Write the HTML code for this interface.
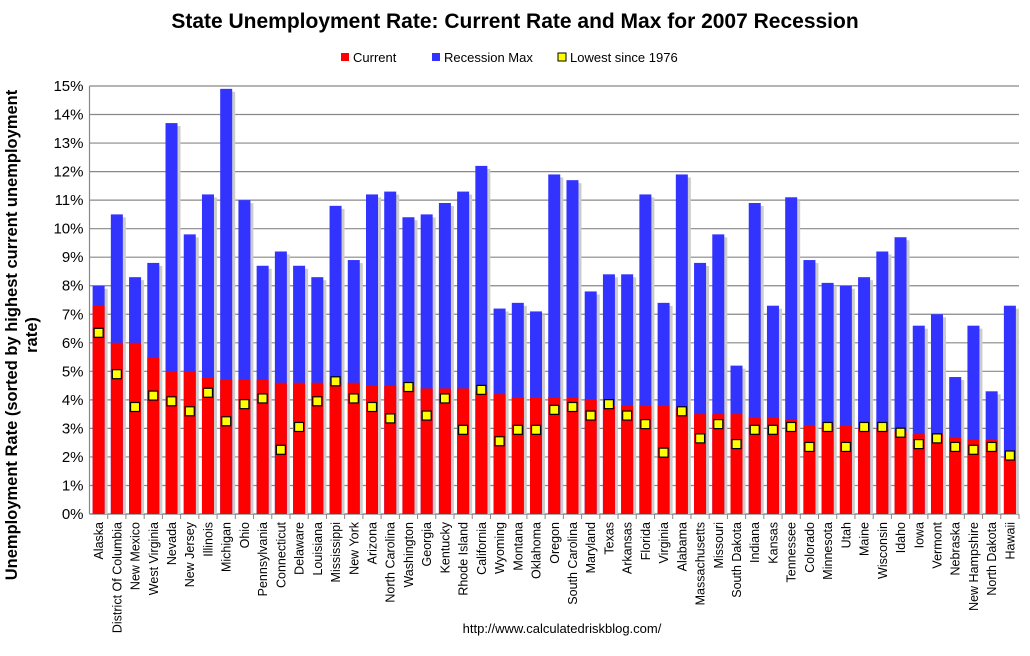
<!DOCTYPE html>
<html><head><meta charset="utf-8"><style>
body{margin:0;background:#fff;font-family:"Liberation Sans",Arial,sans-serif}
</style></head><body>
<svg id="chart" width="1030" height="651" xmlns="http://www.w3.org/2000/svg" font-family="Liberation Sans, Arial, sans-serif">
<rect width="1030" height="651" fill="#fff"/>
<text x="515" y="28" text-anchor="middle" font-size="21" font-weight="bold">State Unemployment Rate: Current Rate and Max for 2007 Recession</text>
<g font-size="13">
<g><rect x="341" y="53" width="8" height="8" fill="#f00"/><text x="353" y="62">Current</text></g>
<g><rect x="432" y="53" width="8" height="8" fill="#3333ff"/><text x="444" y="62">Recession Max</text></g>
<g><rect x="558" y="53" width="8" height="8" fill="#ff0" stroke="#000" stroke-width="1"/><text x="570" y="62">Lowest since 1976</text></g>
</g>
<text transform="translate(17,335) rotate(-90)" text-anchor="middle" font-size="16.5" font-weight="bold">Unemployment Rate (sorted by highest current unemployment</text>
<text transform="translate(37,335) rotate(-90)" text-anchor="middle" font-size="16.5" font-weight="bold">rate)</text>
<text x="562" y="633" text-anchor="middle" font-size="13">http://www.calculatedriskblog.com/</text>
<g id="grid"></g><g id="bars"></g><g id="labels"></g>
</svg>
<script>
const states=["Alaska","District Of Columbia","New Mexico","West Virginia","Nevada","New Jersey","Illinois","Michigan","Ohio","Pennsylvania","Connecticut","Delaware","Louisiana","Mississippi","New York","Arizona","North Carolina","Washington","Georgia","Kentucky","Rhode Island","California","Wyoming","Montana","Oklahoma","Oregon","South Carolina","Maryland","Texas","Arkansas","Florida","Virginia","Alabama","Massachusetts","Missouri","South Dakota","Indiana","Kansas","Tennessee","Colorado","Minnesota","Utah","Maine","Wisconsin","Idaho","Iowa","Vermont","Nebraska","New Hampshire","North Dakota","Hawaii"];
const current=[7.3,6.0,6.0,5.5,5.0,5.0,4.8,4.7,4.7,4.7,4.6,4.6,4.6,4.6,4.6,4.5,4.5,4.5,4.4,4.4,4.4,4.3,4.2,4.1,4.1,4.1,4.1,4.0,3.8,3.8,3.8,3.8,3.7,3.5,3.5,3.5,3.4,3.4,3.3,3.1,3.1,3.1,3.0,3.0,2.9,2.8,2.8,2.7,2.6,2.6,2.0];
const recessionMax=[8.0,10.5,8.3,8.8,13.7,9.8,11.2,14.9,11.0,8.7,9.2,8.7,8.3,10.8,8.9,11.2,11.3,10.4,10.5,10.9,11.3,12.2,7.2,7.4,7.1,11.9,11.7,7.8,8.4,8.4,11.2,7.4,11.9,8.8,9.8,5.2,10.9,7.3,11.1,8.9,8.1,8.0,8.3,9.2,9.7,6.6,7.0,4.8,6.6,4.3,7.3];
const lowest=[6.35,4.9,3.75,4.15,3.95,3.6,4.25,3.25,3.85,4.05,2.25,3.05,3.95,4.65,4.05,3.75,3.35,4.45,3.45,4.05,2.95,4.35,2.55,2.95,2.95,3.65,3.75,3.45,3.85,3.45,3.15,2.15,3.6,2.65,3.15,2.45,2.95,2.95,3.05,2.35,3.05,2.35,3.05,3.05,2.85,2.45,2.65,2.35,2.25,2.35,2.05];
const yTicks=[0,1,2,3,4,5,6,7,8,9,10,11,12,13,14,15];
const NS="http://www.w3.org/2000/svg";
const x0=89.5,x1=1019,y0=514,yTop=86,yMax=15;
const step=(x1-x0)/states.length;
const Y=v=>y0-(v/yMax)*(y0-yTop);
const X=i=>x0+step*(i+0.5);
function mk(t,a,p){const e=document.createElementNS(NS,t);for(const k in a)e.setAttribute(k,a[k]);p.appendChild(e);return e;}
const grid=document.getElementById('grid'),bars=document.getElementById('bars'),labels=document.getElementById('labels');
yTicks.forEach(t=>{
 const l=mk('line',{x1:x0,x2:x1,y1:Y(t),y2:Y(t),stroke:'#888','stroke-width':1.2},grid);
 
 
 const tx=mk('text',{x:x0-6,y:Y(t)+5,'text-anchor':'end','font-size':15},grid);
 tx.textContent=t+'%';
 
 
});
mk('line',{x1:x0,x2:x0,y1:yTop,y2:y0,stroke:'#888','stroke-width':1.2},grid);
states.forEach((s,i)=>{
 const cx=X(i),w=12;
 mk('rect',{x:cx-w/2+3,y:Y(recessionMax[i])+3,width:w,height:y0-Y(recessionMax[i])-3,fill:'#ccc'},bars);
 const b=mk('rect',{x:cx-w/2,y:Y(recessionMax[i]),width:w,height:y0-Y(recessionMax[i]),fill:'#3333ff'},bars);
 
 
 const r=mk('rect',{x:cx-w/2,y:Y(current[i]),width:w,height:y0-Y(current[i]),fill:'#ff0000'},bars);
 
 
 const m=mk('rect',{x:cx-4.5,y:Y(lowest[i])-4.5,width:9,height:9,fill:'#ffff00',stroke:'#000','stroke-width':1.2},bars);
 
 
 mk('line',{x1:x0+step*(i+1),x2:x0+step*(i+1),y1:y0,y2:y0+5,stroke:'#888'},grid);
 const t=mk('text',{transform:`translate(${cx+4.5},${y0+8}) rotate(-90)`,'text-anchor':'end','font-size':12.5},labels);
 t.textContent=s;
 
 
});
mk('line',{x1:x0,x2:x1,y1:y0,y2:y0,stroke:'#888','stroke-width':1.2},grid);
</script>
</body></html>
